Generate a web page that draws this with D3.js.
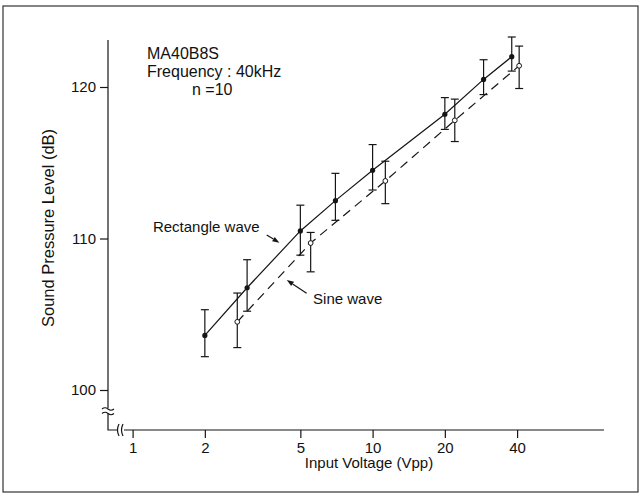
<!DOCTYPE html>
<html><head><meta charset="utf-8">
<script src="https://cdn.jsdelivr.net/npm/d3@7"></script>
<style>
body{margin:0;background:#fff}
svg{display:block}
text{font-family:"Liberation Sans",Arial,Helvetica,sans-serif;fill:#111}
</style>
</head><body>
<svg id="c" width="641" height="497"></svg>
<script>
// ---- data ----
const xTicks = [1, 2, 5, 10, 20, 40];
const yTicks = [100, 110, 120];
const rectV  = [2, 3, 5, 7, 10, 20, 29, 38];
const rectDB = [103.6, 106.75, 110.5, 112.5, 114.5, 118.2, 120.5, 122.0];
const rectHi = [105.3, 108.6, 112.2, 114.3, 116.2, 119.3, 121.8, 123.3];
const rectLo = [102.2, 105.2, 108.9, 111.2, 113.2, 117.2, 119.5, 121.05];
const sineV  = [2.73, 5.52, 11.3, 22, 40.8];
const sineDB = [104.5, 109.7, 113.8, 117.8, 121.4];
const sineHi = [106.4, 110.4, 115.1, 119.2, 122.7];
const sineLo = [102.8, 107.8, 112.3, 116.4, 119.9];
const infoLines = ["MA40B8S", "Frequency : 40kHz", "n =10"];

const svg = d3.select("#c");
const x = d3.scaleLog().domain([1, 10]).range([132.6, 372.6]);
const y = d3.scaleLinear().domain([100, 120]).range([390, 87]);
const ink = "#151515";
const axX = 108, axY = 430;

// frame
svg.append("rect").attr("x", 3).attr("y", 6).attr("width", 635).attr("height", 486)
  .attr("fill", "none").attr("stroke", "#333").attr("stroke-width", 1.2);

// axes lines with breaks
const g = svg.append("g").attr("stroke", ink).attr("stroke-width", 1.2).attr("fill", "none");
g.append("line").attr("x1", axX).attr("x2", axX).attr("y1", 40).attr("y2", 408);
g.append("path").attr("d", `M${axX},414 V${axY} H117`);
g.append("line").attr("x1", 124).attr("x2", 604).attr("y1", axY).attr("y2", axY);
g.append("path").attr("d", `M102,409 q3,-2.5 6,0 t6,0 M102,413.5 q3,-2.5 6,0 t6,0`);
g.append("path").attr("d", `M119,424 q-3,6 0,12 M123,424 q-3,6 0,12`);

// y axis ticks
const ya = svg.append("g").attr("transform", `translate(${axX},0)`)
  .call(d3.axisLeft(y).tickValues(yTicks).tickSize(8).tickSizeOuter(0).tickPadding(4));
ya.select(".domain").remove();
ya.selectAll("line").attr("stroke", ink).attr("stroke-width", 1.2);
ya.selectAll("text").attr("font-size", 15).attr("fill", ink)
  .style("font-family", '"Liberation Sans",Arial,sans-serif');

// x axis ticks
const xa = svg.append("g").attr("transform", `translate(0,${axY})`)
  .call(d3.axisBottom(x).tickValues(xTicks).tickFormat(d3.format("d")).tickSize(8).tickSizeOuter(0).tickPadding(4));
xa.select(".domain").remove();
xa.selectAll("line").attr("stroke", ink).attr("stroke-width", 1.2);
xa.selectAll("text").attr("font-size", 15).attr("fill", ink)
  .style("font-family", '"Liberation Sans",Arial,sans-serif');

// axis titles
svg.append("text").attr("x", 369).attr("y", 468).attr("text-anchor", "middle")
  .attr("font-size", 15).text("Input Voltage (Vpp)");
svg.append("text").attr("transform", "translate(54,228) rotate(-90)").attr("text-anchor", "middle")
  .attr("font-size", 16.5).text("Sound Pressure Level (dB)");

// info text
svg.append("text").attr("x", 147).attr("y", 59).attr("font-size", 16).text(infoLines[0]);
svg.append("text").attr("x", 147).attr("y", 77).attr("font-size", 16).text(infoLines[1]);
svg.append("text").attr("x", 192).attr("y", 94.5).attr("font-size", 16).text(infoLines[2]);

// series
const rect = rectV.map((v, i) => ({v, db: rectDB[i], hi: rectHi[i], lo: rectLo[i]}));
const sine = sineV.map((v, i) => ({v, db: sineDB[i], hi: sineHi[i], lo: sineLo[i]}));
const line = d3.line().x(d => x(d.v)).y(d => y(d.db));

svg.append("path").datum(rect).attr("d", line).attr("fill", "none")
  .attr("stroke", ink).attr("stroke-width", 1.2);
svg.append("path").datum(sine).attr("d", line).attr("fill", "none")
  .attr("stroke", ink).attr("stroke-width", 1.2).attr("stroke-dasharray", "9,6");

function errorBars(data) {
  const eg = svg.append("g").attr("stroke", ink).attr("stroke-width", 1.2);
  data.forEach(d => {
    const cx = x(d.v);
    eg.append("line").attr("x1", cx).attr("x2", cx).attr("y1", y(d.hi)).attr("y2", y(d.lo));
    eg.append("line").attr("x1", cx - 4).attr("x2", cx + 4).attr("y1", y(d.hi)).attr("y2", y(d.hi));
    eg.append("line").attr("x1", cx - 4).attr("x2", cx + 4).attr("y1", y(d.lo)).attr("y2", y(d.lo));
  });
}
errorBars(rect);
errorBars(sine);

svg.append("g").selectAll("circle").data(rect).join("circle")
  .attr("cx", d => x(d.v)).attr("cy", d => y(d.db)).attr("r", 2.6).attr("fill", ink);
svg.append("g").selectAll("circle").data(sine).join("circle")
  .attr("cx", d => x(d.v)).attr("cy", d => y(d.db)).attr("r", 2.4)
  .attr("fill", "#fff").attr("stroke", ink).attr("stroke-width", 1);

// annotations
function arrow(from, to) {
  const x1 = x(from[0]), y1 = y(from[1]), x2 = x(to[0]), y2 = y(to[1]);
  const a = Math.atan2(y2 - y1, x2 - x1), L = 7, W = 2.6;
  const bx = x2 - L * Math.cos(a), by = y2 - L * Math.sin(a);
  svg.append("line").attr("x1", x1).attr("y1", y1).attr("x2", bx).attr("y2", by)
    .attr("stroke", ink).attr("stroke-width", 1.2);
  svg.append("path").attr("fill", ink).attr("d",
    `M${x2},${y2} L${bx - W * Math.sin(a)},${by + W * Math.cos(a)} L${bx + W * Math.sin(a)},${by - W * Math.cos(a)} Z`);
}
svg.append("text").attr("x", x(1.215)).attr("y", y(110.45)).attr("font-size", 15).text("Rectangle wave");
arrow([3.62, 110.23], [4.09, 109.72]);
svg.append("text").attr("x", x(5.65)).attr("y", y(105.68)).attr("font-size", 15).text("Sine wave");
arrow([5.31, 106.38], [4.39, 107.26]);
</script>
</body></html>
